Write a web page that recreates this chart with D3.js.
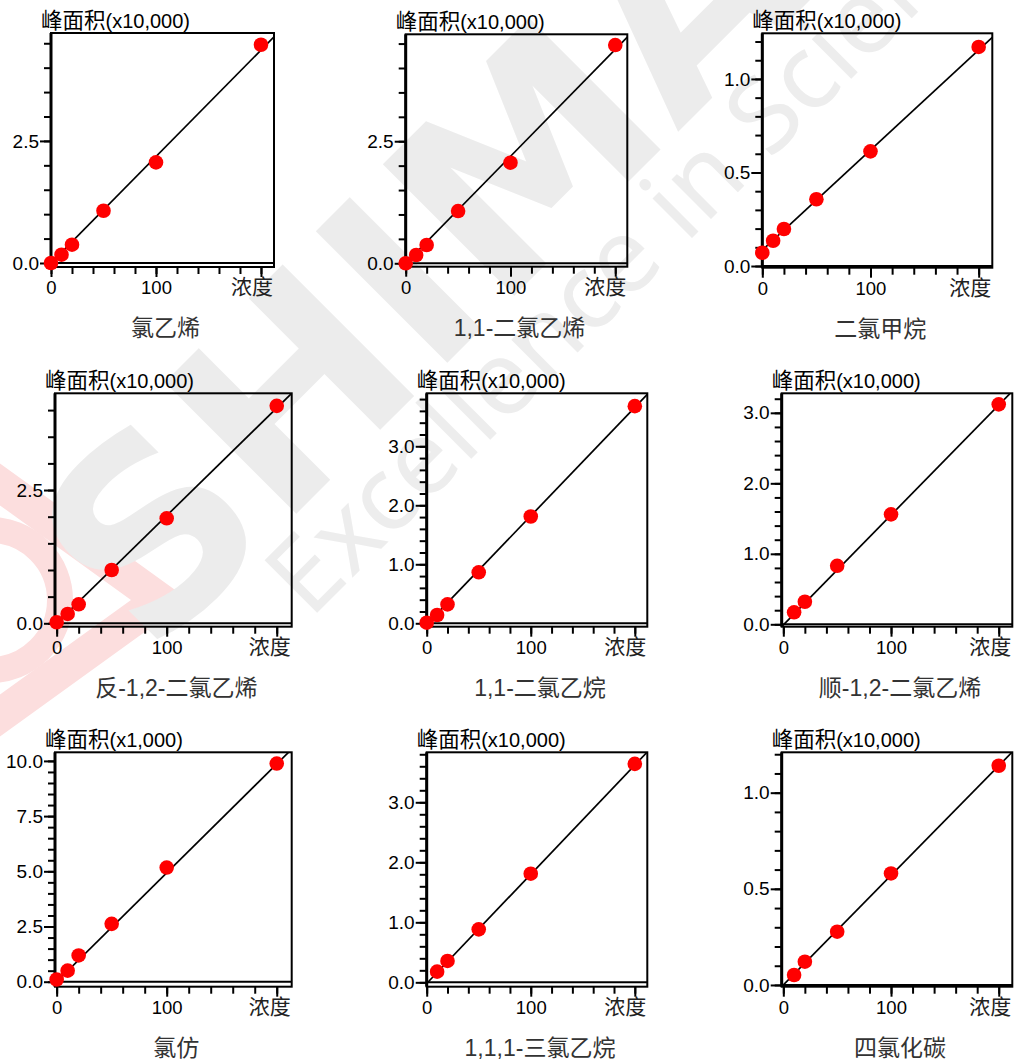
<!DOCTYPE html>
<html>
<head>
<meta charset="utf-8">
<script src="https://cdn.jsdelivr.net/npm/d3@7"></script>
<style>
  body { margin: 0; background: #fff; }
  svg { display: block; }
</style>
</head>
<body>
<svg id="chart" width="1015" height="1063"></svg>
<script>
// ---- data ----
const compounds = ['氯乙烯', '1,1-二氯乙烯', '二氯甲烷',
                   '反-1,2-二氯乙烯', '1,1-二氯乙烷', '顺-1,2-二氯乙烯',
                   '氯仿', '1,1,1-三氯乙烷', '四氯化碳'];
const unitLabels = ['(x10,000)', '(x10,000)', '(x10,000)',
                    '(x10,000)', '(x10,000)', '(x10,000)',
                    '(x1,000)', '(x10,000)', '(x10,000)'];
const concentrations = [
  [0, 10, 20, 50, 100, 200], [0, 10, 20, 50, 100, 200], [0, 10, 20, 50, 100, 200],
  [0, 10, 20, 50, 100, 200], [0, 10, 20, 50, 100, 200], [10, 20, 50, 100, 200],
  [0, 10, 20, 50, 100, 200], [10, 20, 50, 100, 200], [10, 20, 50, 100, 200]
];
const peakAreas = [
  [0.0, 0.17, 0.375, 1.07, 2.06, 4.47],
  [0.0, 0.17, 0.375, 1.07, 2.06, 4.47],
  [0.071, 0.135, 0.198, 0.357, 0.613, 1.171],
  [0.02, 0.175, 0.356, 1.0, 1.97, 4.08],
  [0.01, 0.14, 0.32, 0.864, 1.81, 3.68],
  [0.17, 0.32, 0.83, 1.56, 3.12],
  [0.1, 0.5, 1.19, 2.62, 5.17, 9.88],
  [0.178, 0.356, 0.883, 1.81, 3.64],
  [0.052, 0.121, 0.277, 0.58, 1.14]
];
// calibration line: area = intercept + slope * conc
const fitIntercepts = [0, 0, 0.085, 0, -0.02, -0.01, 0, -0.02, 0];
const fitSlopes = [0.0218, 0.0219, 0.00535, 0.0202, 0.0184, 0.0156, 0.0493, 0.0182, 0.0057];

// axis ranges
const xMin = [0, 0, 0, -1.5, 0, -1.5, -1.5, 0, -1.5];
const xMax = [212.4, 211.5, 212.6, 213.6, 212, 212.6, 213.6, 212, 212.6];
const yMin = [-0.082, -0.07, -0.009, -0.064, -0.058, -0.034, -0.226, -0.073, -0.009];
const yMax = [4.71, 4.69, 1.244, 4.315, 3.898, 3.277, 10.39, 3.833, 1.21];
const yMajorTicks = [
  [0, 2.5], [0, 2.5], [0, 0.5, 1.0],
  [0, 2.5], [0, 1, 2, 3], [0, 1, 2, 3],
  [0, 2.5, 5, 7.5, 10], [0, 1, 2, 3], [0, 0.5, 1.0]
];
const yMinorSteps = [0.5, 0.5, 0.1, 0.5, 0.2, 0.2, 0.5, 0.2, 0.1];
const xMajorTicks = [0, 100, 200];
const xTickLabels = ['0', '100', ''];
const xMinorStep = 20;
const xAxisLabel = '浓度';
const yAxisLabel = '峰面积';

// ---- layout: plot box edges per panel (left, top, right, bottom) ----
const BOXES = [
  [51, 33, 274, 267], [405.7, 34.3, 627.3, 266.7], [762.3, 33.3, 992.3, 267.7],
  [55, 393.3, 291.7, 626.7], [426.7, 393.3, 647.3, 626.7], [781.7, 393.3, 1012.3, 626.7],
  [55, 752.3, 291.7, 986.7], [426.7, 752.3, 647.3, 986.7], [781.7, 752.3, 1012.3, 986.7]
];

const FONT = '"Liberation Sans", "Noto Sans CJK SC", sans-serif';
const POINT_COLOR = '#ff0000';
const TITLE_COLOR = '#333333';

const svg = d3.select('#chart');
svg.append('rect').attr('width', 1015).attr('height', 1063).attr('fill', '#fff');

// faint watermark behind the charts (clipped to the page)
svg.append('clipPath').attr('id', 'page')
  .append('rect').attr('width', 1015).attr('height', 1063);
const wm = svg.append('g').attr('class', 'watermark').attr('clip-path', 'url(#page)');
wm.append('path')
  .attr('d', 'M-20,470 L160,600 L-20,730')
  .attr('fill', 'none')
  .attr('stroke', '#fcdede')
  .attr('stroke-width', 34);
wm.append('circle')
  .attr('cx', -10).attr('cy', 600).attr('r', 70)
  .attr('fill', 'none')
  .attr('stroke', '#fcdede')
  .attr('stroke-width', 26);
wm.append('text')
  .attr('transform', 'translate(150,660) rotate(-45)')
  .style('font-family', '"DejaVu Sans", sans-serif')
  .style('font-weight', '700')
  .style('font-size', '255px')
  .attr('fill', '#ececec')
  .text('SHIMADZU');
wm.append('text')
  .attr('transform', 'translate(310,620) rotate(-45)')
  .style('font-family', '"Noto Sans", sans-serif')
  .style('font-size', '104px')
  .attr('fill', '#ededed')
  .text('Excellence in Science');

compounds.forEach((name, i) => {
  const [L, T, R, B] = BOXES[i];
  const g = svg.append('g').attr('class', 'panel');

  const x = d3.scaleLinear().domain([xMin[i], xMax[i]]).range([L, R]);
  const y = d3.scaleLinear().domain([yMin[i], yMax[i]]).range([B, T]);

  const clipId = 'clip' + i;
  g.append('clipPath').attr('id', clipId)
    .append('rect').attr('x', L).attr('y', T).attr('width', R - L).attr('height', B - T);

  // y axis ticks
  const yMinor = d3.range(0, yMax[i] + 1e-9, yMinorSteps[i]);
  g.append('g')
    .attr('transform', `translate(${L},0)`)
    .call(d3.axisLeft(y).tickValues(yMinor).tickSize(7).tickFormat(''))
    .call(a => a.select('.domain').remove())
    .call(a => a.selectAll('line').attr('stroke', '#000').attr('stroke-width', 2));
  g.append('g')
    .attr('transform', `translate(${L},0)`)
    .call(d3.axisLeft(y).tickValues(yMajorTicks[i]).tickSize(11).tickPadding(1)
      .tickFormat(d3.format('.1f')))
    .call(a => a.select('.domain').remove())
    .call(a => a.selectAll('line').attr('stroke', '#000').attr('stroke-width', 2))
    .call(a => a.selectAll('text')
      .style('font-family', FONT).style('font-size', '19px').attr('fill', '#000'));

  // x axis ticks
  const xMinor = d3.range(0, xMax[i], xMinorStep);
  g.append('g')
    .attr('transform', `translate(0,${B})`)
    .call(d3.axisBottom(x).tickValues(xMinor).tickSize(7).tickFormat(''))
    .call(a => a.select('.domain').remove())
    .call(a => a.selectAll('line').attr('stroke', '#000').attr('stroke-width', 2));
  g.append('g')
    .attr('transform', `translate(0,${B})`)
    .call(d3.axisBottom(x).tickValues(xMajorTicks).tickSize(10).tickPadding(4)
      .tickFormat((d, k) => xTickLabels[k]))
    .call(a => a.select('.domain').remove())
    .call(a => a.selectAll('line').attr('stroke', '#000').attr('stroke-width', 2))
    .call(a => a.selectAll('text')
      .style('font-family', FONT).style('font-size', '18.5px').attr('fill', '#000'));

  // plot box
  g.append('rect')
    .attr('x', L).attr('y', T).attr('width', R - L).attr('height', B - T)
    .attr('fill', 'none').attr('stroke', '#000').attr('stroke-width', 2);
  g.append('line')
    .attr('x1', L).attr('x2', L).attr('y1', T).attr('y2', B)
    .attr('stroke', '#000').attr('stroke-width', 3);
  if (B - y(0) > 1.5) {
    g.append('line')
      .attr('x1', L).attr('x2', R).attr('y1', y(0)).attr('y2', y(0))
      .attr('stroke', '#000').attr('stroke-width', 2);
  }

  // calibration line
  const ends = [xMin[i], xMax[i]];
  g.append('path')
    .datum(ends)
    .attr('clip-path', `url(#${clipId})`)
    .attr('fill', 'none')
    .attr('stroke', '#000')
    .attr('stroke-width', 1.7)
    .attr('d', d3.line().x(d => x(d)).y(d => y(fitIntercepts[i] + fitSlopes[i] * d)));

  // standard points
  g.selectAll('.pt')
    .data(concentrations[i].map((c, k) => [c, peakAreas[i][k]]))
    .enter().append('circle')
    .attr('class', 'pt')
    .attr('cx', d => x(d[0]))
    .attr('cy', d => y(d[1]))
    .attr('r', 7.3)
    .attr('fill', POINT_COLOR);

  // labels
  const yl = g.append('text')
    .attr('x', L - 10).attr('y', T - 5.5)
    .style('font-family', FONT).attr('fill', '#000');
  yl.append('tspan').style('font-size', '21.5px').text(yAxisLabel);
  yl.append('tspan').style('font-size', '20px').text(unitLabels[i]);
  g.append('text')
    .attr('x', R - 1).attr('y', B + 27)
    .attr('text-anchor', 'end')
    .style('font-family', FONT).style('font-size', '21px').attr('fill', '#222')
    .text(xAxisLabel);
  g.append('text')
    .attr('x', (L + R) / 2 + 3).attr('y', B + 69)
    .attr('text-anchor', 'middle')
    .style('font-family', FONT).style('font-size', '23px').attr('fill', TITLE_COLOR)
    .text(name);
});
</script>
</body>
</html>
